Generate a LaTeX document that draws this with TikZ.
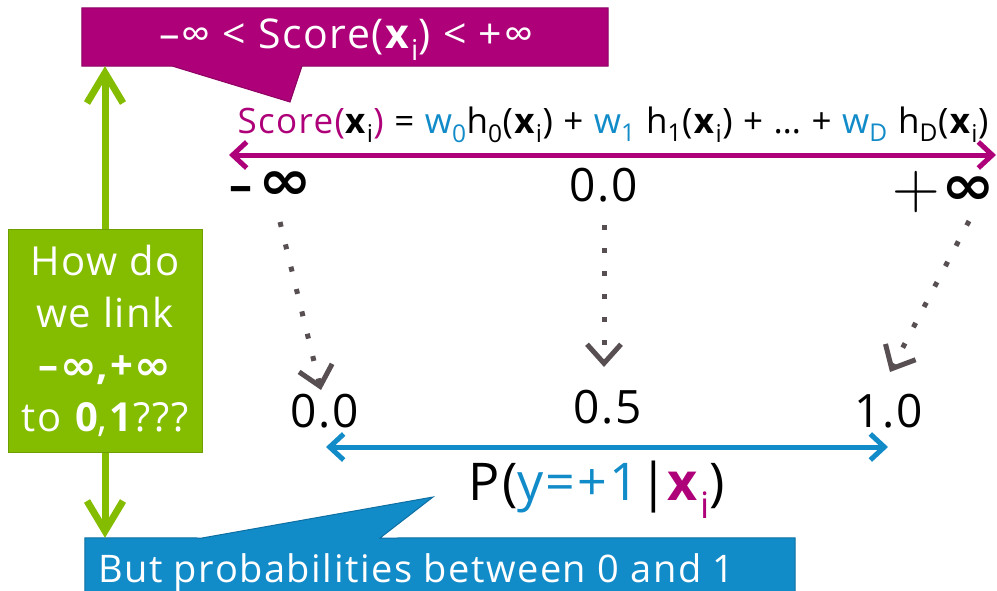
\documentclass[tikz,border=0pt]{standalone}
\usepackage{fontspec}
\setmainfont{Open Sans}[LetterSpace=4]
\newfontfamily\djvb{DejaVu Sans Bold}
\newfontfamily\lmr{Latin Modern Roman}
\usetikzlibrary{arrows.meta}
\definecolor{mag}{HTML}{AE0078}
\definecolor{magd}{HTML}{8E0062}
\definecolor{grn}{HTML}{84BD00}
\definecolor{grnd}{HTML}{6E9E00}
\definecolor{blu}{HTML}{128BC9}
\definecolor{blud}{HTML}{0E6FA2}
\definecolor{gry}{HTML}{574F51}
\newcommand{\sbs}[1]{\textsubscript{#1}}
\newcommand{\binf}[1]{\scalebox{#1}[1]{\djvb ∞}}
\newcommand{\linf}{\raisebox{2pt}{\scalebox{1.4}[1.2]{\djvb ∞}}}
\tikzset{
  gboxstyle/.style={fill=grn, draw=grnd, line width=1pt, minimum width=194pt, minimum height=223pt,
    text=white, align=center, font=\fontsize{40}{52}\selectfont, inner sep=0pt},
  garrow/.style={draw=grn, line width=7pt, -{Straight Barb[length=30pt,width=36pt]}},
  marrow/.style={draw=mag, line width=5pt, {Straight Barb[length=14pt,width=26pt]}-{Straight Barb[length=14pt,width=26pt]}},
  barrow/.style={draw=blu, line width=5pt, {Straight Barb[length=14pt,width=26pt]}-{Straight Barb[length=14pt,width=26pt]}},
  dotarrow/.style={draw=gry, line width=5pt, dash pattern=on 5pt off 18pt, -{Straight Barb[length=19pt,width=34pt]}},
  lab/.style={font=\fontsize{46}{52}\selectfont, inner sep=0pt}
}
\begin{document}
\begin{tikzpicture}[x=1pt,y=-1pt]
\useasboundingbox (0,0) rectangle (997,590);
% top callout
\node[minimum width=526pt, minimum height=58pt, inner sep=0pt] (topbox) at (345,37) {};
\filldraw[fill=mag, draw=magd, line width=1pt] (topbox.north west) -- (topbox.north east) -- (topbox.south east) -- (302,66) -- (290,102) -- (172,66) -- (topbox.south west) -- cycle;
\node[anchor=base, text=white, font=\fontsize{41}{48}\selectfont, inner sep=0pt] (toptext) at (346,48) {–∞ < Score(\textbf{x}\sbs{i}) < +∞};
% bottom callout
\node[minimum width=710pt, minimum height=62pt, inner sep=0pt] (botbox) at (440,569) {};
\filldraw[fill=blu, draw=blud, line width=1pt] (botbox.south west) -- (botbox.north west) -- (202,538) -- (433,497) -- (380,538) -- (botbox.north east) -- (botbox.south east) -- cycle;
\node[anchor=base west, text=white, font=\fontsize{38}{40}\selectfont, inner sep=0pt] (bottext) at (98,582) {But probabilities between 0 and 1};
% green box
\node[gboxstyle] (gbox) at (105,340.5) {How do\\we link\\\textbf{–}\binf{1.1}\textbf{,+}\binf{1.1}\\to \textbf{0},\textbf{1}???};
\draw[garrow] (gbox.north) -- (topbox.south -| gbox.north);
\draw[garrow] (gbox.south) -- (botbox.north -| gbox.south);
% score formula
\node[anchor=base, font=\fontsize{35}{40}\selectfont, inner sep=0pt] (score) at (613,133) {\textcolor{mag}{Score(}\textbf{x}\sbs{i}\textcolor{mag}{)} = \textcolor{blu}{w\sbs{0}}h\sbs{0}(\textbf{x}\sbs{i}) + \textcolor{blu}{w\sbs{1}} h\sbs{1}(\textbf{x}\sbs{i}) + … + \textcolor{blu}{w\sbs{D}} h\sbs{D}(\textbf{x}\sbs{i})};
\coordinate (ml) at (229,155);
\coordinate (mr) at (996,155);
\draw[marrow] (ml) -- (mr);
% labels
\node[lab] (minf) at (271,187) {\textbf{–}\hspace{4pt}\linf};
\node[lab] (zero) at (604,185) {0.0};
\node[lab] (pinf) at (944,192) {\raisebox{-2pt}{\lmr\fontsize{66}{68}\selectfont +}\hspace{2pt}\linf};
\node[lab] (p0) at (325,411) {0.0};
\node[lab] (p05) at (608,407) {0.5};
\node[lab] (p1) at (889,411) {1.0};
% dotted arrows
\coordinate (s1) at (280,222); \coordinate (e1) at (321,390);
\coordinate (s2) at (604,225); \coordinate (e2) at (604,367);
\coordinate (s3) at (969,221); \coordinate (e3) at (890,372);
\draw[dotarrow] (s1) -- (e1);
\draw[dotarrow] (s2) -- (e2);
\draw[dotarrow] (s3) -- (e3);
% blue arrow
\coordinate (bl) at (326,447);
\coordinate (br) at (888,447);
\draw[barrow] (bl) -- (br);
% probability
\node[font=\fontsize{52}{60}\selectfont, inner sep=0pt] (prob) at (597,490) {P(\textcolor{blu}{y=+1}|\textcolor{mag}{\textbf{x}\sbs{i}})};
\end{tikzpicture}
\end{document}
